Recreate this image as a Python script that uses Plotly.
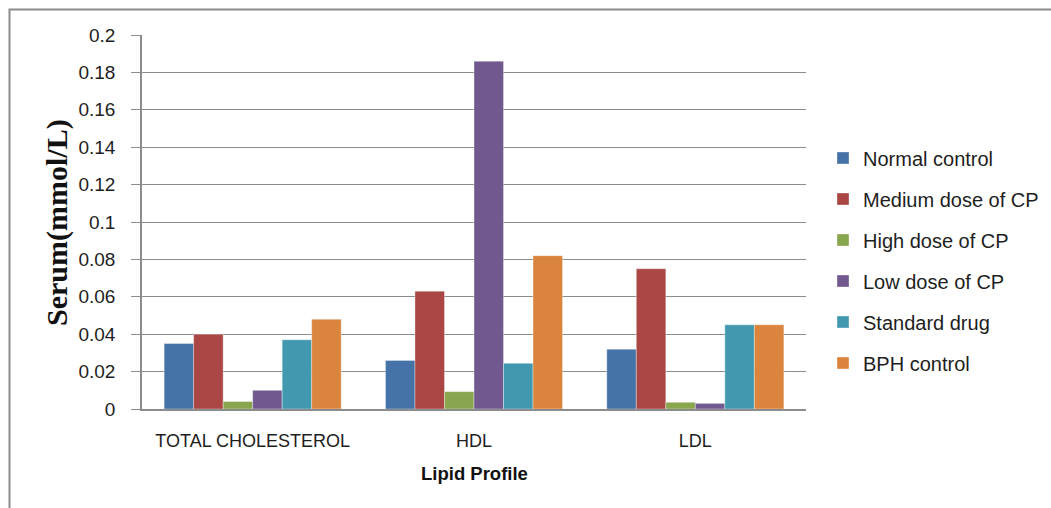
import plotly.graph_objects as go

# Lipid profile measurements, serum (mmol/L)
categories = ["TOTAL CHOLESTEROL", "HDL", "LDL"]
normal_control = [0.035, 0.026, 0.032]
medium_dose_cp = [0.040, 0.063, 0.075]
high_dose_cp = [0.004, 0.0093, 0.0036]
low_dose_cp = [0.010, 0.186, 0.003]
standard_drug = [0.037, 0.0244, 0.045]
bph_control = [0.048, 0.082, 0.045]

series = [
    ("Normal control", normal_control, "#4572A7"),
    ("Medium dose of CP", medium_dose_cp, "#AA4643"),
    ("High dose of CP", high_dose_cp, "#89A54E"),
    ("Low dose of CP", low_dose_cp, "#71588F"),
    ("Standard drug", standard_drug, "#4198AF"),
    ("BPH control", bph_control, "#DB843D"),
]

y_ticks = [0, 0.02, 0.04, 0.06, 0.08, 0.1, 0.12, 0.14, 0.16, 0.18, 0.2]
y_tick_text = ["0", "0.02", "0.04", "0.06", "0.08", "0.1", "0.12", "0.14", "0.16", "0.18", "0.2"]

W, H = 1051, 508
ML, MR, MT, MB = 142, 245, 35, 99
PW, PH = W - ML - MR, H - MT - MB

fig = go.Figure()
for i, (name, vals, color) in enumerate(series):
    fig.add_trace(go.Bar(
        x=categories, y=vals, name=name, legendgroup=str(i),
        marker=dict(color=color, line=dict(color="rgba(255,255,255,0.35)", width=1)),
    ))

font_family = "Liberation Sans, Arial, sans-serif"

fig.update_layout(
    width=W, height=H,
    margin=dict(l=ML, r=MR, t=MT, b=MB, autoexpand=False),
    paper_bgcolor="white", plot_bgcolor="white",
    barmode="group", bargap=0.2, bargroupgap=0,
    font=dict(family=font_family, size=15, color="#1e1e1e"),
    showlegend=True,
    legend=dict(
        x=(823 - ML) / PW, xanchor="left",
        y=(MT + PH - 260.5) / PH, yanchor="middle",
        traceorder="grouped", tracegroupgap=12,
        font=dict(family=font_family, size=20, color="#1e1e1e"),
        itemwidth=30, bgcolor="rgba(0,0,0,0)",
    ),
    xaxis=dict(
        showline=True, linecolor="#8c8c8c", linewidth=1.5,
        ticks="", showgrid=False, ticklabelstandoff=15,
        tickfont=dict(size=18),
    ),
    yaxis=dict(
        range=[0, 0.2], tickvals=y_ticks, ticktext=y_tick_text,
        showline=True, linecolor="#8c8c8c", linewidth=1.5,
        ticks="outside", ticklen=9, tickcolor="#8c8c8c", tickwidth=1,
        ticklabelstandoff=12,
        showgrid=True, gridcolor="#8c8c8c", gridwidth=1.3,
        zeroline=False, tickfont=dict(size=19),
    ),
    shapes=[dict(
        type="rect", xref="paper", yref="paper",
        x0=(9.5 - ML) / PW, x1=(W + 20 - ML) / PW,
        y0=-(H - MT - PH + 20) / PH, y1=(MT + PH - 9.5) / PH,
        line=dict(color="#8c8c8c", width=2), layer="below",
    )],
    annotations=[
        dict(
            text="<b>Serum(mmol/L)</b>", textangle=-90,
            xref="paper", yref="paper",
            x=(57 - ML) / PW, y=(MT + PH - 223) / PH,
            xanchor="center", yanchor="middle", showarrow=False,
            font=dict(family="Liberation Serif, Times New Roman, serif", size=30, color="#111"),
        ),
        dict(
            text="<b>Lipid Profile</b>",
            xref="paper", yref="paper",
            x=0.5, y=-(473 - MT - PH) / PH,
            xanchor="center", yanchor="middle", showarrow=False,
            font=dict(family=font_family, size=18.5, color="#111"),
        ),
    ],
)

fig.write_html("out.html")
